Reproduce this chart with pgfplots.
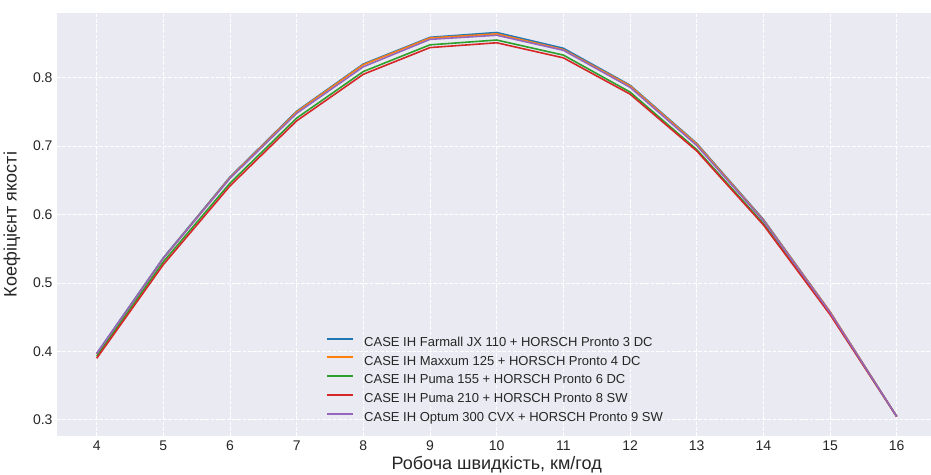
\documentclass[border=0pt]{standalone}
\usepackage{fontspec}
\setmainfont{Liberation Sans}
\usepackage{pgfplots}
\pgfplotsset{compat=1.18}

\definecolor{bgc}{HTML}{EAEAF2}
\definecolor{txt}{HTML}{262626}
\definecolor{c1}{HTML}{1F77B4}
\definecolor{c2}{HTML}{FF7F0E}
\definecolor{c3}{HTML}{2CA02C}
\definecolor{c4}{HTML}{D62728}
\definecolor{c5}{HTML}{9467BD}

\begin{document}
\begin{tikzpicture}
\begin{axis}[
    scale only axis,
    width=874pt, height=423pt,
    xmin=3.405, xmax=16.514,
    ymin=0.2766, ymax=0.8945,
    xtick={4,5,...,16},
    ytick={0.3,0.4,0.5,0.6,0.7,0.8},
    /pgf/number format/assume math mode=true,
    yticklabel style={/pgf/number format/fixed, /pgf/number format/precision=1,
        /pgf/number format/fixed zerofill},
    axis background/.style={fill=bgc},
    axis line style={draw=none},
    major tick length=0pt,
    grid=major,
    major grid style={white, line width=1pt, dash pattern=on 3.7pt off 1.6pt},
    tick label style={font=\fontsize{14}{16}\selectfont, text=txt},
    xticklabel style={yshift=-1pt},
    yticklabel style={xshift=-1pt},
    xlabel={Робоча швидкість, км/год},
    ylabel={Коефіцієнт якості},
    every axis x label/.style={at={(axis cs:10,0.2766)}, anchor=north, yshift=-20pt,
        inner sep=0pt, font=\fontsize{18}{20}\selectfont, text=txt},
    every axis y label/.style={at={([xshift=-53.7pt]rel axis cs:0,0.5)}, rotate=90, anchor=north,
        inner sep=0pt, font=\fontsize{18}{20}\selectfont, text=txt},
    legend style={draw=none, fill=none, at={(axis cs:7.44,0.4214)}, anchor=north west,
        inner sep=0pt, row sep=6.4pt,
        /tikz/every odd column/.append style={column sep=10pt},
        nodes={inner sep=0pt, text height=9.5pt, text depth=2.8pt, text=txt,
               font=\fontsize{13}{15}\selectfont}},
    legend cell align=left,
    legend image code/.code={\draw[#1, line width=2pt] (0pt,4.5pt) -- (26pt,4.5pt);},
    every axis plot/.append style={line width=1.6pt},
]
\addplot[c1] coordinates {(4,0.397) (5,0.537) (6,0.655) (7,0.751) (8,0.820) (9,0.859) (10,0.866) (11,0.843) (12,0.789) (13,0.704) (14,0.593) (15,0.458) (16,0.305)};
\addlegendentry{CASE IH Farmall JX 110 + HORSCH Pronto 3 DC}
\addplot[c2] coordinates {(4,0.396) (5,0.536) (6,0.654) (7,0.750) (8,0.819) (9,0.858) (10,0.864) (11,0.841) (12,0.788) (13,0.703) (14,0.592) (15,0.458) (16,0.305)};
\addlegendentry{CASE IH Maxxum 125 + HORSCH Pronto 4 DC}
\addplot[c3] coordinates {(4,0.393) (5,0.531) (6,0.646) (7,0.741) (8,0.809) (9,0.848) (10,0.855) (11,0.833) (12,0.779) (13,0.695) (14,0.587) (15,0.455) (16,0.305)};
\addlegendentry{CASE IH Puma 155 + HORSCH Pronto 6 DC}
\addplot[c4] coordinates {(4,0.390) (5,0.527) (6,0.642) (7,0.737) (8,0.805) (9,0.844) (10,0.851) (11,0.829) (12,0.776) (13,0.693) (14,0.585) (15,0.454) (16,0.305)};
\addlegendentry{CASE IH Puma 210 + HORSCH Pronto 8 SW}
\addplot[c5] coordinates {(4,0.397) (5,0.536) (6,0.653) (7,0.748) (8,0.816) (9,0.856) (10,0.862) (11,0.840) (12,0.786) (13,0.701) (14,0.591) (15,0.457) (16,0.305)};
\addlegendentry{CASE IH Optum 300 CVX + HORSCH Pronto 9 SW}
\end{axis}
\pgfresetboundingbox
\useasboundingbox (-57pt,-38pt) rectangle (874pt,436pt);
\end{tikzpicture}
\end{document}
